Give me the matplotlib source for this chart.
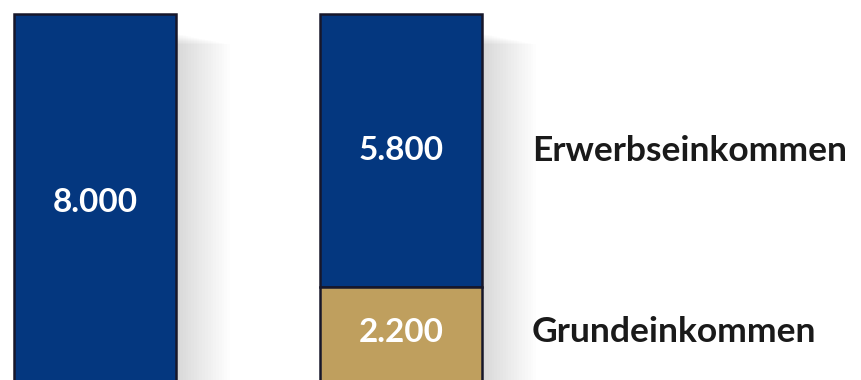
import matplotlib.pyplot as plt
import matplotlib.patheffects as pe

# Werte aus dem Bild
positionen = [0, 1]
erwerb = [8000, 5800]
grund = [0, 2200]
labels_erwerb = ["8.000", "5.800"]
labels_grund = ["", "2.200"]
legende = ["Erwerbseinkommen", "Grundeinkommen"]

blau = "#04377f"
gold = "#bf9f5e"
rand = "#17172a"

plt.rcParams['font.family'] = ['Lato', 'DejaVu Sans']

fig = plt.figure(figsize=(8.61, 3.80), dpi=100)
ax = fig.add_axes([0, 0, 1, 1])

# weicher Schatten rechts neben den Balken
schatten = [pe.SimplePatchShadow(offset=(k, -14 - k * 0.2), shadow_rgbFace="#000000", alpha=0.007)
            for k in range(1, 40, 2)]

breite = 0.529
ax.bar(positionen, grund, width=breite, color=gold, edgecolor=rand, linewidth=1.8,
       zorder=4, path_effects=schatten + [pe.Normal()])
ax.bar(positionen, erwerb, width=breite, bottom=grund, color=blau, edgecolor=rand,
       linewidth=1.8, zorder=3, path_effects=schatten + [pe.Normal()])

for x, g, e, lg, le in zip(positionen, grund, erwerb, labels_grund, labels_erwerb):
    ax.text(x, g + e / 2, le, color="white", fontsize=24, fontweight="bold",
            ha="center", va="center", zorder=5)
    if lg:
        ax.text(x, g / 2 + 150, lg, color="white", fontsize=24, fontweight="bold",
                ha="center", va="center", zorder=5)

# Beschriftungen rechts
ax.text(1.428, grund[1] + erwerb[1] / 2, legende[0], color="#1a1a1a", fontsize=25.5,
        fontweight="bold", ha="left", va="center")
ax.text(1.428, grund[1] / 2 + 150, legende[1], color="#1a1a1a", fontsize=25.5,
        fontweight="bold", ha="left", va="center")

ax.set_xlim(-0.310, 2.503)
ax.set_ylim(233, 8297)
ax.axis("off")

fig.savefig("out.png", dpi=100)
